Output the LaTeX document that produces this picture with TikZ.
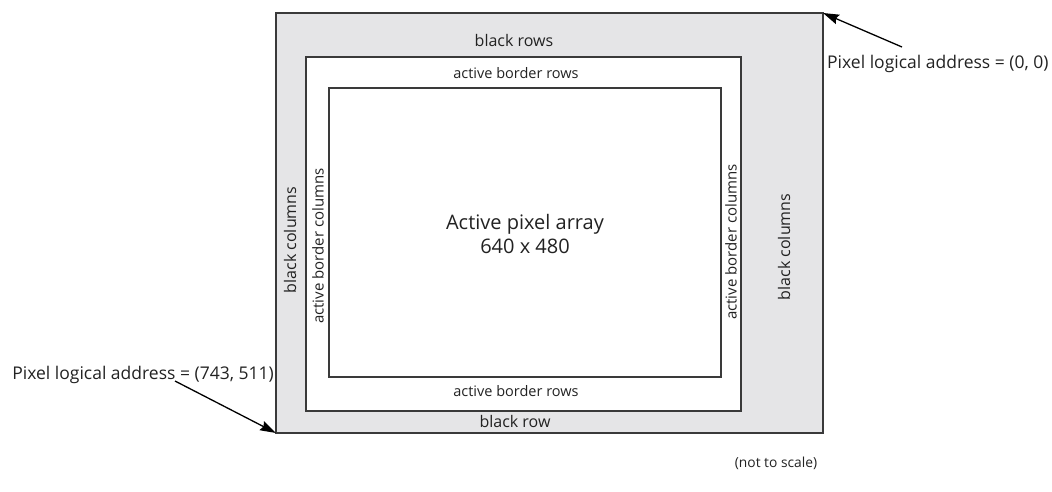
\documentclass[tikz,border=0pt]{standalone}
\usepackage{fontspec}
\setmainfont{Open Sans}
\usetikzlibrary{arrows.meta}
\definecolor{bandgray}{HTML}{E5E5E7}
\definecolor{edgegray}{HTML}{3A3A3A}
\definecolor{txt}{HTML}{222222}
\begin{document}
\begin{tikzpicture}[x=1pt,y=-1pt,
  frame/.style={draw=edgegray,line width=1.2pt,inner sep=0pt,outer sep=0pt},
  lbl/.style={text=txt,inner sep=0pt,font=\fontsize{14.5}{17}\selectfont},
  collbl/.style={text=txt,inner sep=0pt,rotate=90,font=\fontsize{15}{18}\selectfont},
  biglbl/.style={text=txt,inner sep=0pt,font=\fontsize{16}{19}\selectfont},
  addr/.style={text=txt,inner sep=0pt,font=\fontsize{17.5}{21}\selectfont},
  pointer/.style={draw=black,line width=1.3pt,-{Stealth[length=16pt,width=10pt,inset=2pt]}}]
\useasboundingbox (0,0) rectangle (1052,491);
\node[frame,fill=bandgray,minimum width=547pt,minimum height=420pt] (outer) at (549.5,223) {};
\node[frame,fill=white,minimum width=435pt,minimum height=354pt] (middle) at (523.5,234) {};
\node[frame,fill=white,minimum width=392pt,minimum height=289pt] (inner) at (525,232.5) {};
\node[biglbl] (br) at (514,40) {black rows};
\node[lbl] (abrt) at (516,73) {active border rows};
\node[lbl] (abrb) at (516,391) {active border rows};
\node[biglbl] (brow) at (515,421) {black row};
\node[biglbl,rotate=90] (bcl) at (290,240) {black columns};
\node[collbl] (abcl) at (318,246) {active border columns};
\node[collbl] (abcr) at (731,242) {active border columns};
\node[biglbl,rotate=90] (bcr) at (784,247) {black columns};
\node[biglbl,align=center,font=\fontsize{20}{24}\selectfont] (arr) at (525,234) {Active pixel array\\640 x 480};
\node[addr,anchor=west] (la) at (827,64) {Pixel logical address = (0, 0)};
\node[addr,anchor=east] (lb) at (274,375) {Pixel logical address = (743, 511)};
\node[lbl,font=\fontsize{13.8}{16}\selectfont] (nts) at (776,463) {(not to scale)};
\coordinate (ta) at (902,47);
\coordinate (tb) at (175,381);
\draw[pointer] (ta) -- (outer.north east);
\draw[pointer] (tb) -- (outer.south west);
\end{tikzpicture}
\end{document}
